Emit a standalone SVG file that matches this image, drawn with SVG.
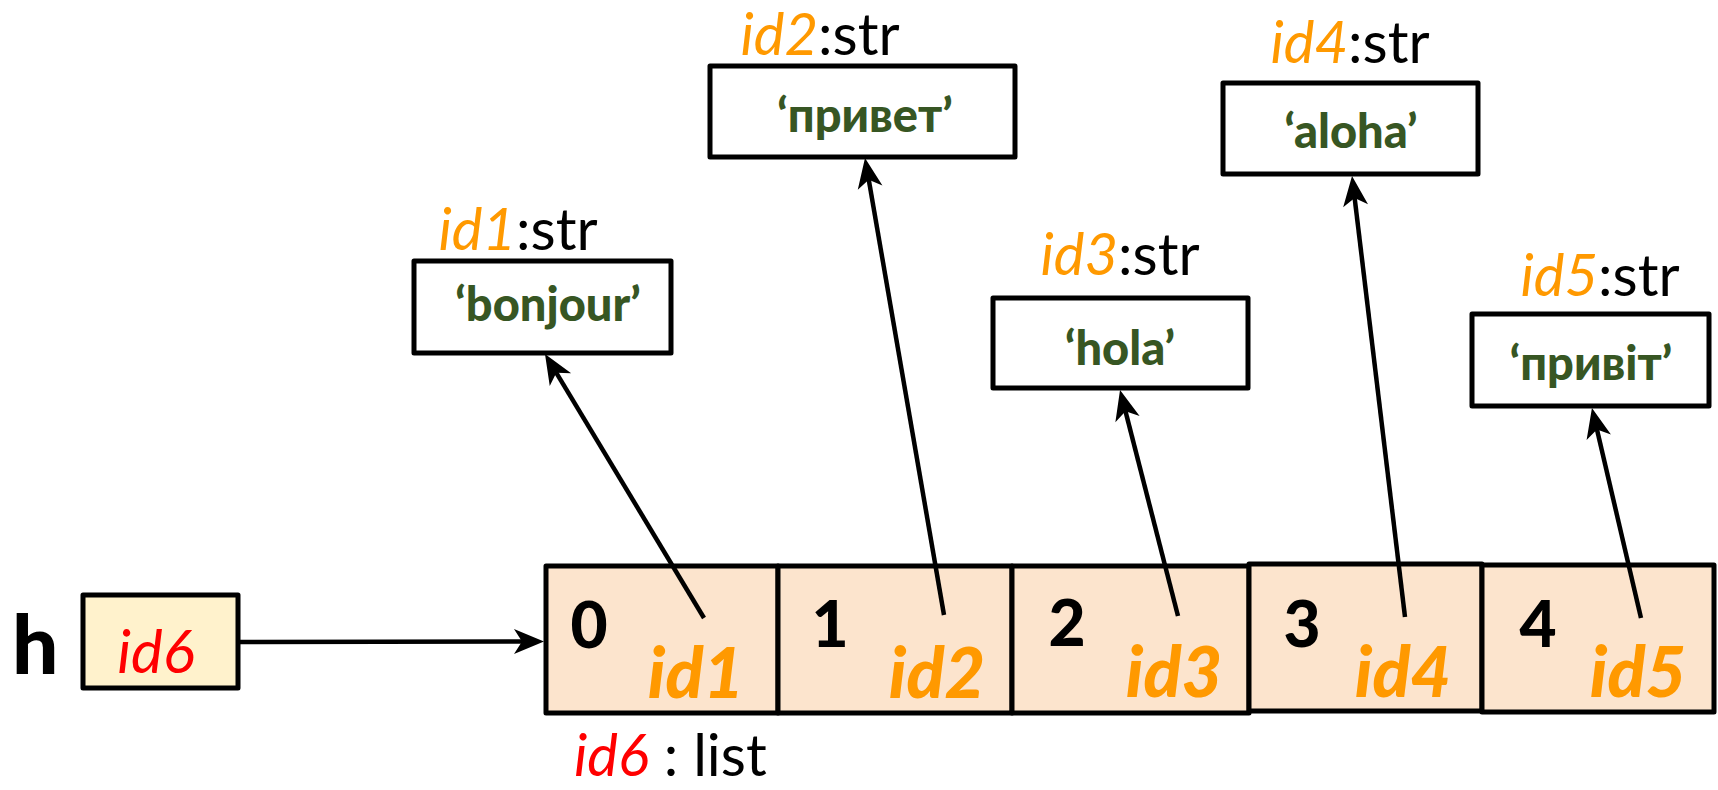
<svg xmlns="http://www.w3.org/2000/svg" width="1718" height="790" viewBox="0 0 1718 790">
<style>
text{font-family:Lato,"Noto Sans",sans-serif}
.box{fill:#fff;stroke:#000;stroke-width:5;stroke-linejoin:round}
.cell{fill:#FCE4CD;stroke:#000;stroke-width:5;stroke-linejoin:round}
.var{fill:#FFF2CC;stroke:#000;stroke-width:5;stroke-linejoin:round}
.lbl{font-size:58px;text-anchor:middle}
.oid{fill:#FF9900;font-style:italic}
.blk{fill:#000}
.val{font-size:47px;font-weight:900;fill:#375623;text-anchor:middle}
.idx{font-size:64px;font-weight:900;fill:#000;text-anchor:middle}
.ref{font-size:70px;font-weight:900;font-style:italic;fill:#FF9900;text-anchor:middle}
.red{fill:#FF0000;font-style:italic}
.con{stroke:#000;stroke-width:4.5;fill:none;marker-end:url(#ah)}
</style>
<defs>
<marker id="ah" markerUnits="userSpaceOnUse" viewBox="-12 -14 34 28" refX="0" refY="0" markerWidth="34" markerHeight="28" orient="auto">
<path d="M20,0 L-10,-12.5 L-2,0 L-10,12.5 Z" fill="#000"/>
</marker>
</defs>

<g id="var-h">
<text x="12" y="674" font-size="82" font-weight="900" fill="#000">h</text>
<rect class="var" x="83" y="595" width="155" height="93"/>
<text x="156" y="673" font-size="60" class="red" text-anchor="middle">id6</text>
</g>

<g id="list">
<rect class="cell" x="546" y="566" width="232" height="147"/>
<rect class="cell" x="778" y="566" width="234" height="147"/>
<rect class="cell" x="1012" y="566" width="237" height="147"/>
<rect class="cell" x="1249" y="564" width="233" height="147"/>
<rect class="cell" x="1482" y="565" width="232" height="147"/>
<text class="idx" x="589" y="648">0</text>
<text class="idx" x="830" y="647">1</text>
<text class="idx" x="1067" y="646">2</text>
<text class="idx" x="1302" y="647">3</text>
<text class="idx" x="1538" y="647">4</text>
<text class="ref" x="696" y="698">id1</text>
<text class="ref" x="937" y="698">id2</text>
<text class="ref" x="1174" y="697">id3</text>
<text class="ref" x="1403" y="697">id4</text>
<text class="ref" x="1638" y="697">id5</text>
<text x="574" y="776" font-size="58"><tspan class="red">id6</tspan><tspan fill="#000"> : list</tspan></text>
</g>

<g id="str1">
<text class="lbl" x="518" y="250"><tspan class="oid">id1</tspan><tspan class="blk">:str</tspan></text>
<rect class="box" x="414" y="261" width="257" height="92"/>
<text class="val" x="548" y="321">‘bonjour’</text>
</g>

<g id="str2">
<text class="lbl" x="820" y="55"><tspan class="oid">id2</tspan><tspan class="blk">:str</tspan></text>
<rect class="box" x="710" y="66" width="305" height="91"/>
<text class="val" x="865" y="132">‘привет’</text>
</g>

<g id="str3">
<text class="lbl" x="1120" y="275"><tspan class="oid">id3</tspan><tspan class="blk">:str</tspan></text>
<rect class="box" x="993" y="298" width="255" height="90"/>
<text class="val" x="1120" y="365">‘hola’</text>
</g>

<g id="str4">
<text class="lbl" x="1350" y="63"><tspan class="oid">id4</tspan><tspan class="blk">:str</tspan></text>
<rect class="box" x="1223" y="83" width="255" height="91"/>
<text class="val" x="1351" y="148">‘aloha’</text>
</g>

<g id="str5">
<text class="lbl" x="1600" y="296"><tspan class="oid">id5</tspan><tspan class="blk">:str</tspan></text>
<rect class="box" x="1472" y="314" width="237" height="92"/>
<text class="val" x="1591" y="380">‘привіт’</text>
</g>

<g id="connectors">
<line class="con" x1="238" y1="642" x2="524" y2="641.5"/>
<line class="con" x1="704" y1="618" x2="555.3" y2="371.1"/>
<line class="con" x1="944" y1="615" x2="868.4" y2="177.7"/>
<line class="con" x1="1178" y1="616" x2="1125" y2="409.4"/>
<line class="con" x1="1405" y1="617" x2="1354.4" y2="195.9"/>
<line class="con" x1="1641" y1="618" x2="1596.5" y2="427.5"/>
</g>
</svg>
